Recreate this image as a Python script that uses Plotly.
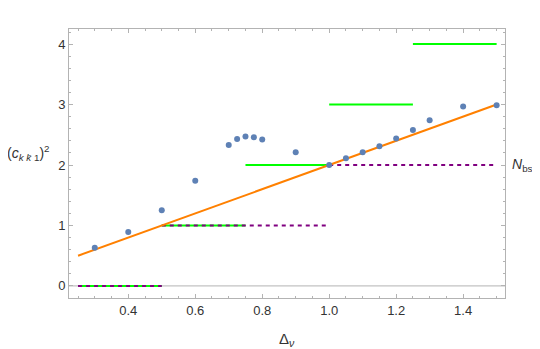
import plotly.graph_objects as go

# Data
delta_v = [0.3, 0.4, 0.5, 0.6, 0.7, 0.725, 0.75, 0.775, 0.8, 0.9, 1.0,
           1.05, 1.1, 1.15, 1.2, 1.25, 1.3, 1.4, 1.5]
c_sq = [0.63, 0.89, 1.25, 1.74, 2.33, 2.43, 2.47, 2.46, 2.42, 2.21, 2.0,
        2.11, 2.21, 2.31, 2.44, 2.58, 2.74, 2.97, 2.99]

line_x = [0.25, 1.5]
line_y = [0.5, 3.0]

green_x0 = [0.25, 0.5, 0.75, 1.0, 1.25]
green_x1 = [0.5, 0.75, 1.0, 1.25, 1.5]
green_y = [0, 1, 2, 3, 4]

purple_x0 = [0.25, 0.5, 1.0]
purple_x1 = [0.5, 1.0, 1.5]
purple_y = [0, 1, 2]

x_ticks = [0.4, 0.6, 0.8, 1.0, 1.2, 1.4]
x_tick_labels = ["0.4", "0.6", "0.8", "1.0", "1.2", "1.4"]
y_ticks = [0, 1, 2, 3, 4]

fig = go.Figure()

# axis line at y=0
fig.add_trace(go.Scatter(x=[0.223, 1.525], y=[0, 0], mode="lines",
                         line=dict(color="#b3b3b3", width=1), hoverinfo="skip", showlegend=False))

def seg(x0s, x1s, ys):
    xs, yy = [], []
    for a, b, y in zip(x0s, x1s, ys):
        xs += [a, b, None]
        yy += [y, y, None]
    return xs, yy

gx, gy = seg(green_x0, green_x1, green_y)
fig.add_trace(go.Scatter(x=gx, y=gy, mode="lines", line=dict(color="#00ff00", width=2),
                         showlegend=False))
px, py = seg(purple_x0, purple_x1, purple_y)
fig.add_trace(go.Scatter(x=px, y=py, mode="lines",
                         line=dict(color="#800080", width=2, dash="4px,4px"), showlegend=False))
fig.add_trace(go.Scatter(x=line_x, y=line_y, mode="lines",
                         line=dict(color="#ff8000", width=2), showlegend=False))
fig.add_trace(go.Scatter(x=delta_v, y=c_sq, mode="markers",
                         marker=dict(color="#5e81b5", size=6), showlegend=False))

axis_common = dict(showgrid=False, zeroline=False, showline=True, linecolor="#b3b3b3",
                   linewidth=1, mirror="ticks", ticks="inside", ticklen=4,
                   tickcolor="#b3b3b3", tickfont=dict(family="Liberation Sans", size=13, color="#333"))

fig.update_xaxes(range=[0.223, 1.525], tickvals=x_ticks, ticktext=x_tick_labels,
                 minor=dict(dtick=0.05, tick0=0, ticks="inside", ticklen=2, tickcolor="#b3b3b3"),
                 **axis_common)
fig.update_yaxes(range=[-0.2, 4.25], tickvals=y_ticks,
                 minor=dict(dtick=0.2, tick0=0, ticks="inside", ticklen=2, tickcolor="#b3b3b3"),
                 **axis_common)

fig.add_annotation(text="Δ<sub><i>ν</i></sub>", x=0.5, xref="paper", y=-0.11, yref="paper",
                   yanchor="top", showarrow=False,
                   font=dict(family="Liberation Sans", size=15, color="#333"))
fig.add_annotation(text="(<i>c</i><sub><i>k</i> <i>k̄</i> 1</sub>)<sup>2</sup>", x=-0.147,
                   xref="paper", xanchor="left", y=2.2, yref="y", showarrow=False,
                   font=dict(family="Liberation Sans", size=14, color="#333"))
fig.add_annotation(text="<i>N</i><sub>bs</sub>", x=1.012, xref="paper", xanchor="left",
                   y=2.0, yref="y", showarrow=False,
                   font=dict(family="Liberation Sans", size=14, color="#333"))

# page body has an 8px default margin; size figure to fit the 540x349 window
fig.update_layout(width=532, height=341, margin=dict(l=61, r=35, t=21, b=51),
                  plot_bgcolor="white", paper_bgcolor="white")

fig.write_html("out.html")
